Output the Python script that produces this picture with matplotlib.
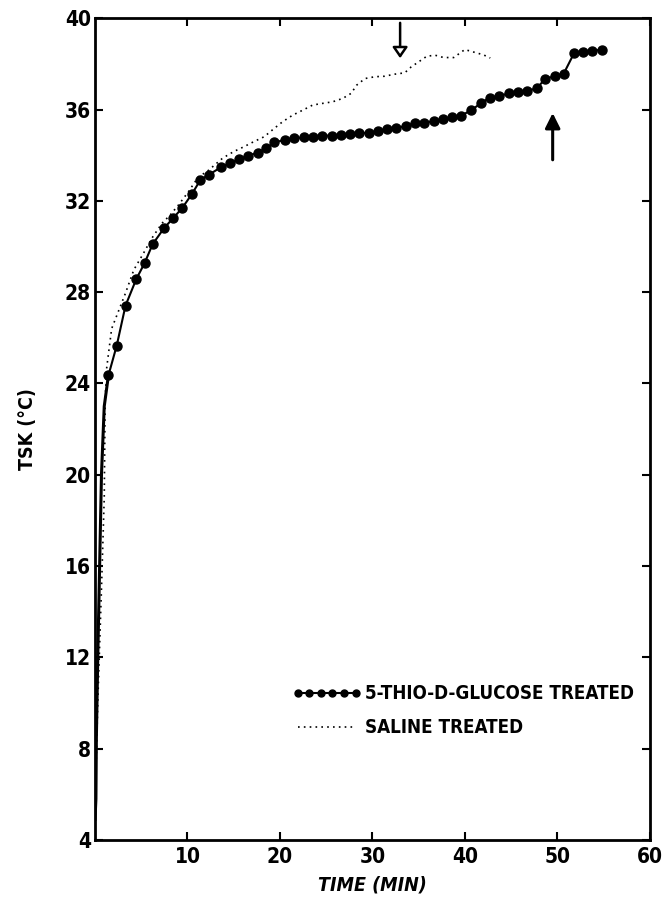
import matplotlib
matplotlib.use('Agg')
import matplotlib.pyplot as plt
from matplotlib.lines import Line2D

plt.rcParams['font.family'] = ['DejaVu Sans']
plt.rcParams['font.weight'] = 'bold'
plt.rcParams['font.stretch'] = 'condensed'

# 5-thio-D-glucose treated (filled circles)
glu_t = [0, 0.1, 0.15, 0.3, 0.5, 0.7, 1.0, 1.45, 2.35, 3.3, 4.46, 5.36, 6.23, 7.46,
         8.44, 9.42, 10.5, 11.4, 12.3, 13.6, 14.6, 15.6, 16.5, 17.6, 18.5, 19.4,
         20.5, 21.5, 22.6, 23.55, 24.57, 25.6, 26.6, 27.6, 28.6, 29.6, 30.6, 31.6,
         32.6, 33.6, 34.6, 35.6, 36.7, 37.6, 38.6, 39.6, 40.7, 41.8, 42.7, 43.7,
         44.75, 45.8, 46.7, 47.8, 48.7, 49.8, 50.7, 51.8, 52.8, 53.8, 54.8]
glu_T = [4.9, 5.8, 8.5, 12.0, 16.0, 20.0, 23.0, 24.35, 25.66, 27.41, 28.57, 29.27,
         30.1, 30.8, 31.24, 31.68, 32.31, 32.92, 33.14, 33.47, 33.65, 33.82, 33.97,
         34.11, 34.3, 34.56, 34.67, 34.74, 34.78, 34.81, 34.86, 34.86, 34.89, 34.92,
         34.96, 34.99, 35.06, 35.13, 35.19, 35.28, 35.4, 35.42, 35.5, 35.58, 35.66,
         35.74, 35.97, 36.3, 36.52, 36.59, 36.71, 36.78, 36.82, 36.93, 37.36, 37.46,
         37.58, 38.46, 38.53, 38.57, 38.63]
glu_marker_from = 7  # early trace is a plain line

# saline treated (dotted)
sal_t = [0, 0.3, 0.7, 1.0, 1.1, 1.27, 1.8, 3.3, 4.2, 5.25, 6.16, 7.25, 8.15, 9.05,
         10.1, 11.2, 12.1, 13.8, 15.0, 16.1, 17.2, 18.3, 19.4, 20.3, 21.4, 22.5,
         23.55, 24.6, 25.7, 26.8, 27.7, 28.3, 29.2, 30.3, 31.3, 32.4, 33.5, 34.2,
         35.0, 35.9, 36.8, 37.7, 38.8, 40.0, 41.3, 42.0, 42.75]
sal_T = [5.5, 10.0, 15.0, 19.0, 23.3, 24.7, 26.4, 27.96, 28.98, 29.71, 30.37, 31.02,
         31.39, 31.83, 32.4, 33.06, 33.28, 33.87, 34.16, 34.37, 34.6, 34.81, 35.18,
         35.47, 35.76, 35.98, 36.2, 36.27, 36.34, 36.49, 36.71, 37.07, 37.36, 37.44,
         37.46, 37.55, 37.61, 37.87, 38.09, 38.34, 38.38, 38.28, 38.28, 38.63, 38.48,
         38.4, 38.26]

x_ticks = [10, 20, 30, 40, 50, 60]
y_ticks = [4, 8, 12, 16, 20, 24, 28, 32, 36, 40]

fig = plt.figure(figsize=(6.62, 9.14), dpi=100)
ax = fig.add_axes([0.1435, 0.081, 0.838, 0.899])

ax.plot(glu_t[:glu_marker_from + 1], glu_T[:glu_marker_from + 1], color='black', lw=2.2)
ax.plot(glu_t[glu_marker_from:], glu_T[glu_marker_from:], color='black', lw=1.5,
        marker='o', markersize=6.5)
ax.plot(sal_t, sal_T, color='black', lw=1.2, linestyle=(0, (1, 2.5)))

# arrows
ax.annotate('', xy=(33, 38.25), xytext=(33, 39.8),
            arrowprops=dict(arrowstyle='-|>,head_length=0.65,head_width=0.45',
                            mutation_scale=10, lw=1.8, facecolor='white',
                            edgecolor='black', shrinkA=0, shrinkB=0))
ax.annotate('', xy=(49.5, 35.85), xytext=(49.5, 33.8),
            arrowprops=dict(arrowstyle='-|>,head_length=0.9,head_width=0.45',
                            mutation_scale=10, lw=2.2, color='black',
                            shrinkA=0, shrinkB=0))

ax.set_xlim(0, 60)
ax.set_ylim(4, 40)
ax.set_xticks(x_ticks)
ax.set_yticks(y_ticks)
ax.tick_params(direction='in', top=True, right=True, length=6, width=1.5,
               labelsize=15)
ax.tick_params(axis='x', pad=5)
ax.tick_params(axis='y', pad=3)
for s in ax.spines.values():
    s.set_linewidth(2)

ax.set_xlabel('TIME (MIN)', fontsize=14, fontstyle='italic', fontweight='bold',
              labelpad=6)
ax.set_ylabel('TSK (°C)', fontsize=14, fontweight='bold', labelpad=20)

handles = [Line2D([], [], color='black', lw=1.5, marker='o', markersize=5),
           Line2D([], [], color='black', lw=1.2, linestyle=(0, (1, 2.5)))]
ax.legend(handles, ['5-THIO-D-GLUCOSE TREATED', 'SALINE TREATED'],
          loc='center left', bbox_to_anchor=(0.355, 0.157), frameon=False,
          prop={'size': 13.5, 'weight': 'bold', 'stretch': 'condensed'},
          handlelength=3.7, handletextpad=0.2, labelspacing=0.8, numpoints=6,
          borderpad=0, borderaxespad=0)

fig.savefig('out.png', dpi=100)
